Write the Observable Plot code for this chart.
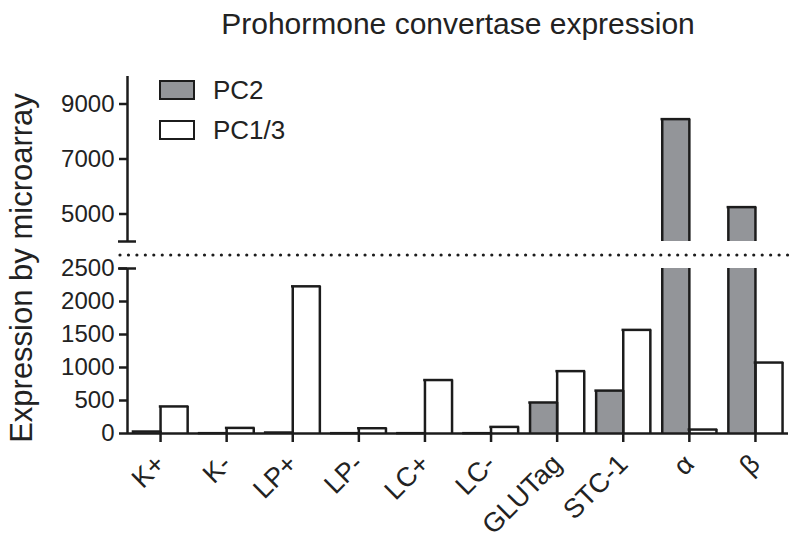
<!DOCTYPE html>
<html>
<head>
<meta charset="utf-8">
<script src="https://cdn.jsdelivr.net/npm/d3@7"></script>
<script src="https://cdn.jsdelivr.net/npm/@observablehq/plot@0.6"></script>
<style>
  body { margin: 0; background: #fff; font-family: "Liberation Sans", Arial, sans-serif; }
  #wrap { position: relative; width: 800px; height: 553px; }
  #legend { position: absolute; left: 159px; top: 80px; font-size: 26px; color: #222; }
  .item { display: flex; align-items: center; height: 20px; margin-bottom: 20px; }
  .sw { width: 32px; height: 16px; border: 2.5px solid #1c1c1c; margin-right: 18px; }
</style>
</head>
<body>
<div id="wrap">
  <div id="chart"></div>
  <div id="legend">
    <div class="item"><div class="sw" style="background:#939599"></div><span>PC2</span></div>
    <div class="item"><div class="sw" style="background:#fff"></div><span>PC1/3</span></div>
  </div>
</div>
<script>
const categories = ["K+", "K-", "LP+", "LP-", "LC+", "LC-", "GLUTag", "STC-1", "α", "β"];
const series = ["PC2", "PC1/3"];
const pc2 = [30, 5, 15, 5, 5, 5, 470, 650, 8450, 5250];
const pc13 = [410, 85, 2230, 80, 810, 100, 945, 1570, 60, 1075];
const lowerTicks = [0, 500, 1000, 1500, 2000, 2500];
const upperTicks = [5000, 7000, 9000];
const LOW_MAX = 2500, HIGH_MIN = 4000, HIGH_MAX = 10000;

const title = "Prohormone convertase expression";
const yLabel = "Expression by microarray";

// broken-axis mapping
const SEG = 165, GAP = 27;
const f = v => v <= LOW_MAX ? v * SEG / LOW_MAX : SEG + GAP + (v - HIGH_MIN) * SEG / (HIGH_MAX - HIGH_MIN);
const inv = t => t <= SEG + 1e-6 ? t * LOW_MAX / SEG : HIGH_MIN + (t - SEG - GAP) * (HIGH_MAX - HIGH_MIN) / SEG;

const W = 0.41;
const fills = {"PC2": "#939599", "PC1/3": "#ffffff"};
const rows = categories.flatMap((c, i) => [
  {i, c, s: "PC2", v: pc2[i]},
  {i, c, s: "PC1/3", v: pc13[i]}
]);
const pieces = rows.flatMap(d => {
  const x1 = d.s === "PC2" ? d.i - W : d.i;
  const x2 = x1 + W;
  const out = [{s: d.s, x1, x2, y1: 0, y2: f(Math.min(d.v, LOW_MAX)), top: d.v <= LOW_MAX}];
  if (d.v > HIGH_MIN) out.push({s: d.s, x1, x2, y1: f(HIGH_MIN), y2: f(d.v), top: true});
  return out;
});

const ink = "#1c1c1c";
const sw = 2.5;

const chart = Plot.plot({
  width: 800,
  height: 553,
  marginLeft: 127,
  marginRight: 12,
  marginTop: 76,
  marginBottom: 120,
  style: {fontFamily: "Liberation Sans, Arial, sans-serif", color: "#222", background: "#fff"},
  x: {domain: [-0.5, categories.length - 0.5]},
  y: {domain: [0, f(HIGH_MAX)]},
  marks: [
    Plot.rectY(pieces, {x1: "x1", x2: "x2", y1: "y1", y2: "y2", fill: d => fills[d.s]}),
    Plot.ruleX(pieces, {x: "x1", y1: "y1", y2: "y2", stroke: ink, strokeWidth: sw}),
    Plot.ruleX(pieces, {x: "x2", y1: "y1", y2: "y2", stroke: ink, strokeWidth: sw}),
    Plot.ruleY(pieces.filter(d => d.top), {y: "y2", x1: "x1", x2: "x2", stroke: ink, strokeWidth: sw, strokeLinecap: "square"}),
    // x axis line
    Plot.ruleY([0], {stroke: ink, strokeWidth: sw}),
    // y axis segments
    Plot.ruleX([{a: 0, b: LOW_MAX}, {a: HIGH_MIN, b: HIGH_MAX}], {x: -0.5, y1: d => f(d.a), y2: d => f(d.b), stroke: ink, strokeWidth: sw}),
    // break crosses
    Plot.ruleY([LOW_MAX, HIGH_MIN], {y: d => f(d), x1: -0.5, x2: -0.5, insetLeft: -9, insetRight: -9, stroke: ink, strokeWidth: sw}),
    // dotted break line
    Plot.ruleY([(f(LOW_MAX) + f(HIGH_MIN)) / 2], {insetLeft: -7, insetRight: -2, stroke: ink, strokeWidth: 3.2, strokeDasharray: "0,8.45", strokeLinecap: "round"}),
    Plot.axisY({
      ticks: [...lowerTicks, ...upperTicks].map(f),
      tickFormat: t => String(Math.round(inv(t))),
      tickSize: 8, tickPadding: 5, fontSize: 24, stroke: ink, strokeWidth: sw, label: null
    }),
    Plot.axisX({
      ticks: d3.range(categories.length),
      tickFormat: i => categories[i],
      tickRotate: -45, tickSize: 9, tickPadding: 17, fontSize: 27, stroke: ink, strokeWidth: sw, label: null
    }),
    Plot.text([title], {frameAnchor: "top", dy: -64, fontSize: 30, fill: "#222"}),
    Plot.text([yLabel], {frameAnchor: "left", textAnchor: "middle", rotate: -90, dx: -105, dy: 13, fontSize: 31, fill: "#222"})
  ]
});
document.getElementById("chart").appendChild(chart);
</script>
</body>
</html>
